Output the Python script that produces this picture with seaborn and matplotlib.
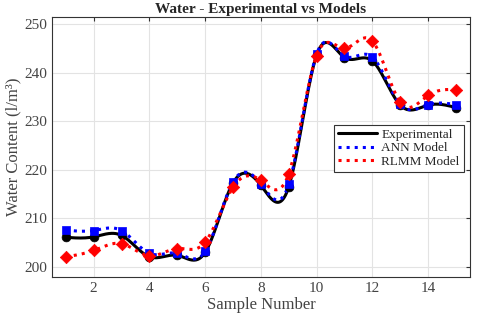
import numpy as np
import pandas as pd
import matplotlib
matplotlib.use("Agg")
import matplotlib.pyplot as plt
import seaborn as sns

# Data
samples = [1, 2, 3, 4, 5, 6, 7, 8, 9, 10, 11, 12, 13, 14, 15]
experimental = [206.1, 206.2, 206.5, 202.1, 202.4, 203.0, 217.3, 216.8, 216.5, 243.6, 243.1, 242.4, 233.3, 233.3, 232.8]
ann_model = [207.6, 207.5, 207.5, 202.8, 202.8, 203.2, 217.5, 217.1, 217.0, 243.8, 243.4, 243.2, 233.5, 233.4, 233.4]
rlmm_model = [202.1, 203.4, 204.8, 202.3, 203.8, 205.1, 216.4, 217.8, 219.2, 243.5, 245.0, 246.5, 233.9, 235.3, 236.5]


def smooth(x, y, n=400):
    # natural cubic spline through the points, for drawing the curve only
    x = np.asarray(x, float)
    y = np.asarray(y, float)
    k = len(x)
    h = np.diff(x)
    A = np.zeros((k, k))
    b = np.zeros(k)
    A[0, 0] = A[-1, -1] = 1
    for i in range(1, k - 1):
        A[i, i - 1] = h[i - 1]
        A[i, i] = 2 * (h[i - 1] + h[i])
        A[i, i + 1] = h[i]
        b[i] = 3 * ((y[i + 1] - y[i]) / h[i] - (y[i] - y[i - 1]) / h[i - 1])
    c = np.linalg.solve(A, b)
    xs = np.linspace(x[0], x[-1], n)
    idx = np.clip(np.searchsorted(x, xs) - 1, 0, k - 2)
    dx = xs - x[idx]
    bb = (y[idx + 1] - y[idx]) / h[idx] - h[idx] * (2 * c[idx] + c[idx + 1]) / 3
    dd = (c[idx + 1] - c[idx]) / (3 * h[idx])
    ys = y[idx] + bb * dx + c[idx] * dx ** 2 + dd * dx ** 3
    return xs, ys


sns.set_style("whitegrid", {"grid.color": "#e3e3e3", "axes.edgecolor": "#333333"})
plt.rcParams['font.family'] = ['Liberation Serif', 'DejaVu Serif']

fig = plt.figure(figsize=(4.8, 3.21), dpi=100)
ax = fig.add_axes([0.108, 0.138, 0.871, 0.81])

series = [
    ("Experimental", experimental, "black", "-", "o"),
    ("ANN Model", ann_model, "blue", ":", "s"),
    ("RLMM Model", rlmm_model, "red", ":", "D"),
]
for name, vals, color, ls, mk in series:
    xs, ys = smooth(samples, vals)
    sns.lineplot(x=xs, y=ys, ax=ax, color=color, linestyle=ls, linewidth=2.2, label=name)
    sns.scatterplot(x=samples, y=vals, ax=ax, color=color, marker=mk, s=40,
                    edgecolor=color, linewidth=0.5, zorder=3)

ax.set_xlim(0.5, 15.5)
ax.set_ylim(198, 251.5)
ax.set_xticks([2, 4, 6, 8, 10, 12, 14])
ax.set_yticks([200, 210, 220, 230, 240, 250])
ax.tick_params(direction="in", length=3, top=True, right=True, labelsize=11,
               colors="#333333", labelcolor="#444444")
for s in ax.spines.values():
    s.set_linewidth(0.8)

ax.set_title("Water - Experimental vs Models", fontsize=11, fontweight="bold", pad=3)
ax.set_xlabel("Sample Number", fontsize=12, color="#444444", labelpad=2)
ax.set_ylabel("Water Content (l/m³)", fontsize=12, color="#444444", labelpad=2)

leg = ax.legend(loc="upper right", bbox_to_anchor=(0.985, 0.585), fontsize=9.5,
                frameon=True, fancybox=False, edgecolor="#333333", borderpad=0.3,
                handlelength=3.0, labelspacing=0.1, handletextpad=0.3, borderaxespad=0)
leg.get_frame().set_linewidth(0.8)
leg.get_frame().set_alpha(1)

fig.savefig("out.png", dpi=100)
